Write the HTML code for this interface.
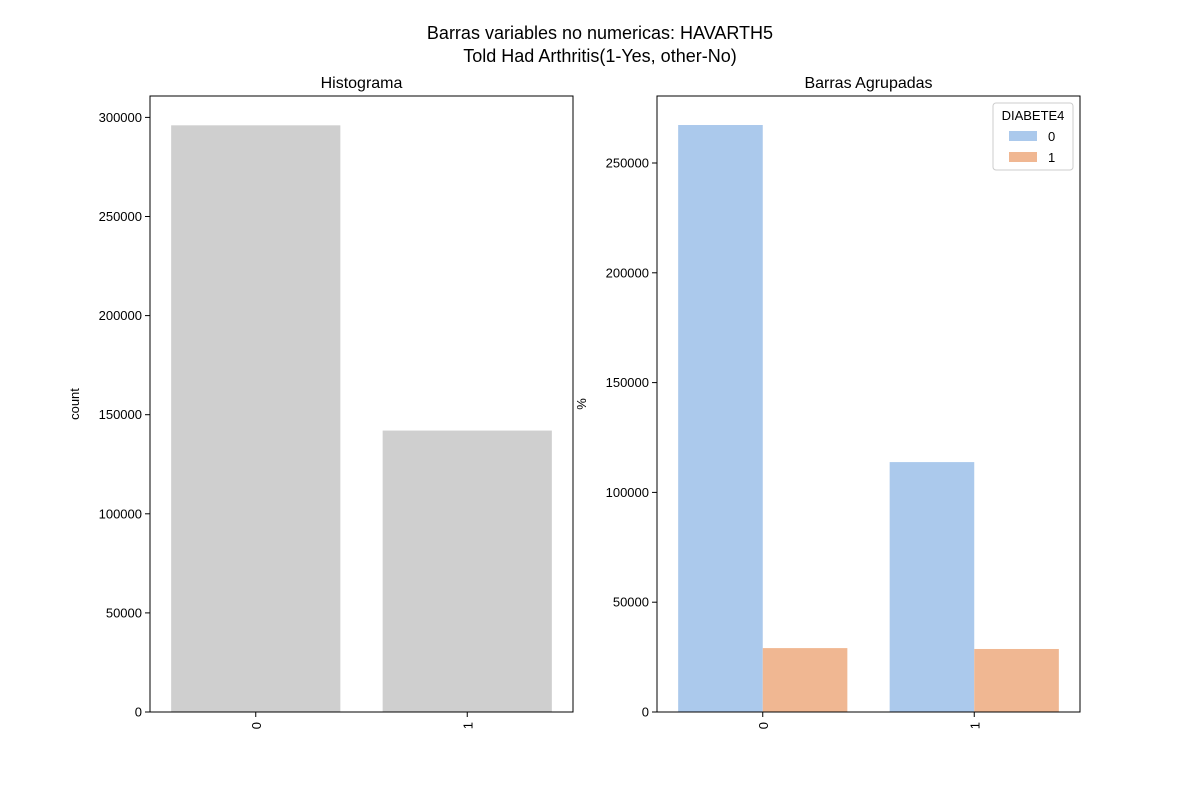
<!DOCTYPE html>
<html><head><meta charset="utf-8"><style>
body{margin:0;background:#fff;}
svg text{font-family:"Liberation Sans","DejaVu Sans",sans-serif;fill:#000;}
</style></head><body>
<svg id="chart" width="1200" height="800" xmlns="http://www.w3.org/2000/svg">
<rect width="1200" height="800" fill="#fff"/>
<text x="600" y="39" font-size="18" text-anchor="middle">Barras variables no numericas: HAVARTH5</text>
<text x="600" y="62" font-size="18" text-anchor="middle">Told Had Arthritis(1-Yes, other-No)</text>
<g id="left"></g>
<g id="right"></g>
</svg>
<script>
const categories = ["0", "1"];
const histCounts = [296000, 142000];
const hueLevels = ["0", "1"];
const grouped0 = [267300, 113800];
const grouped1 = [29100, 28700];
const leftTicks = [0, 50000, 100000, 150000, 200000, 250000, 300000];
const rightTicks = [0, 50000, 100000, 150000, 200000, 250000];

const NS = "http://www.w3.org/2000/svg";
function mk(parent, tag, attrs, text){
  const e = document.createElementNS(NS, tag);
  for (const k in attrs) e.setAttribute(k, attrs[k]);
  if (text !== undefined) e.textContent = text;
  parent.appendChild(e);
  return e;
}
function panel(g, x0, x1, yTop, yBot, yMax, ticks, ylabel, title){
  const y = v => yBot - (v / yMax) * (yBot - yTop);
  const band = (x1 - x0) / categories.length;
  const t = mk(g, "text", {x:(x0+x1)/2, y:yTop-8, "font-size":16, "text-anchor":"middle"}, title);
  
  
  ticks.forEach(v => {
    const l = mk(g, "line", {x1:x0-5, x2:x0, y1:y(v), y2:y(v), stroke:"#000"});
    
    
    const tx = mk(g, "text", {x:x0-8, y:y(v)+4.5, "font-size":13, "text-anchor":"end"}, String(v));
    
    
  });
  categories.forEach((c, i) => {
    const cx = x0 + band*(i+0.5);
    const l = mk(g, "line", {x1:cx, x2:cx, y1:yBot, y2:yBot+5, stroke:"#000"});
    
    
    const tx = mk(g, "text", {x:cx+5, y:yBot+10, "font-size":13, "text-anchor":"end", transform:`rotate(-90 ${cx+5} ${yBot+10})`}, c);
    
    
  });
  const yl = mk(g, "text", {x:0, y:0, "font-size":13, "text-anchor":"middle", transform:`translate(${x0-71} ${(yTop+yBot)/2}) rotate(-90)`}, ylabel);
  
  
  return {y, band};
}
// Left
const L = document.getElementById("left");
const lp = panel(L, 150, 573, 96, 712, 310795, leftTicks, "count", "Histograma");
histCounts.forEach((v, i) => {
  const cx = 150 + lp.band*(i+0.5), w = lp.band*0.8;
  const r = mk(L, "rect", {x:cx-w/2, y:lp.y(v), width:w, height:712-lp.y(v), fill:"#cfcfcf"});
  
  
});
const lf = mk(L, "rect", {x:150, y:96, width:423, height:616, fill:"none", stroke:"#000", "stroke-width":1});


// Right
const R = document.getElementById("right");
const rp = panel(R, 657, 1080, 96, 712, 280510, rightTicks, "%", "Barras Agrupadas");
const colors = ["#abc9ec", "#f0b792"];
[grouped0, grouped1].forEach((series, h) => {
  series.forEach((v, i) => {
    const cx = 657 + rp.band*(i+0.5), w = rp.band*0.4;
    const x = cx - rp.band*0.4 + h*w;
    const r = mk(R, "rect", {x:x, y:rp.y(v), width:w, height:712-rp.y(v), fill:colors[h]});
    
    
  });
});
const rf = mk(R, "rect", {x:657, y:96, width:423, height:616, fill:"none", stroke:"#000", "stroke-width":1});


// Legend
const lg = mk(R, "g", {});


mk(lg, "rect", {x:993, y:103, width:80, height:67, rx:3, fill:"#fff", stroke:"#ccc"});
mk(lg, "text", {x:1033, y:120, "font-size":13, "text-anchor":"middle"}, "DIABETE4");
hueLevels.forEach((h, k) => {
  const e = mk(lg, "g", {});
  
  
  mk(e, "rect", {x:1009, y:131+k*21, width:28, height:10, fill:colors[k]});
  mk(e, "text", {x:1048, y:141+k*21, "font-size":13}, h);
});
</script>
</body></html>
